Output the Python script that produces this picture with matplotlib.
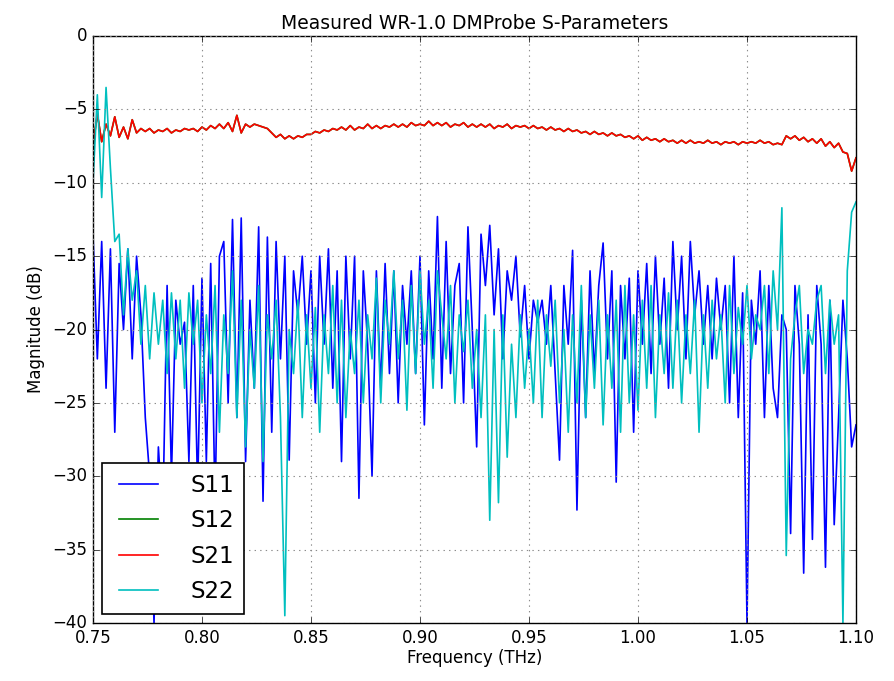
import matplotlib
matplotlib.use("Agg")
import matplotlib.pyplot as plt
import numpy as np

# frequency grid (THz), 2 GHz step
freq_start, freq_stop, freq_step = 0.75, 1.10, 0.002

s11_db = [
    -13.5, -22, -14, -24, -14.5, -27, -15.5, -20, -14.5, -22,
    -15, -19, -26, -30, -40, -28, -33, -17, -30, -18,
    -21, -19.5, -29, -17, -31, -16.5, -29, -15.5, -32, -15,
    -14, -25, -12.5, -26, -12.4, -29, -18, -24, -13, -31.7,
    -13.7, -27, -14, -22, -15, -28.9, -16, -19, -15, -21,
    -16, -25, -15, -21, -14.5, -24, -16, -29, -15, -22,
    -15, -31.5, -16, -21, -30, -16, -24, -15.5, -23, -16,
    -25, -17, -21, -16, -23, -15, -26.5, -16, -22, -12.3,
    -24, -14, -23, -17, -15.5, -25, -13, -20, -28, -13.5,
    -17, -12.9, -19, -14.5, -22, -16, -18, -15, -20.5, -17,
    -22, -18, -19.5, -18, -21, -17, -23, -28.9, -17, -21,
    -14.6, -32.3, -18, -26, -16, -23, -17, -14.1, -22, -16,
    -30.4, -17, -22, -16.5, -27, -16, -21, -15.5, -23, -15,
    -21, -16.5, -24, -14, -20, -15, -22, -14, -19, -16,
    -21, -17, -22, -16.5, -20, -17, -25, -15, -26, -17.5,
    -40, -18, -21, -16, -26, -17, -24, -26, -19, -20,
    -33.9, -17, -21, -36.6, -19, -34.3, -17, -21, -36.2, -18,
    -33.3, -26, -18, -22, -28, -26.5,
]

s22_db = [
    -10, -4, -11, -3.5, -9, -14, -13.5, -19, -14.5, -18,
    -16, -21, -17, -22, -17.5, -21, -18, -23, -17.5, -22,
    -18, -24, -17.5, -21, -18, -25, -19, -23, -17, -27,
    -19, -23, -16, -26, -18, -28, -20, -24, -17, -29,
    -19, -22, -18, -26, -39.5, -20, -23, -18, -26, -19,
    -24, -18.5, -27, -19, -23, -17, -25, -18, -26, -20,
    -23, -18, -25, -19, -22, -16.5, -25, -18, -21, -16,
    -22, -18, -25.5, -17, -23, -16, -21, -18, -24, -16,
    -19, -22, -17, -25, -19, -21.5, -18, -24, -20, -26,
    -19, -33, -20, -31.8, -19, -28.7, -21, -26, -19, -24,
    -20, -25, -18, -26, -19, -22.5, -18, -25, -20, -27,
    -19, -25, -17, -26, -19, -24, -18, -26.5, -19, -24,
    -18, -27, -17, -25, -19, -25.5, -18, -24, -17, -26,
    -19, -23, -17.5, -24, -18, -25, -19, -23, -18, -27,
    -19, -24, -18, -22, -19, -25, -17, -23, -18.5, -21,
    -17, -22, -19, -20, -17, -23, -16, -20, -11.7, -35.4,
    -22, -19, -17, -23, -20, -21, -18, -17, -23, -18,
    -21, -19, -40, -16, -12, -11.3,
]

s21_db = [
    -7.5, -5.3, -7.2, -6.0, -6.8, -5.5, -6.9, -6.2, -7.0, -5.7,
    -6.6, -6.3, -6.5, -6.3, -6.6, -6.4, -6.5, -6.3, -6.6, -6.4,
    -6.5, -6.3, -6.4, -6.3, -6.5, -6.2, -6.4, -6.1, -6.3, -6.0,
    -6.3, -5.9, -6.5, -5.4, -6.6, -6.0, -6.2, -6.0, -6.1, -6.2,
    -6.3, -6.6, -6.9, -6.7, -7.0, -6.8, -7.0, -6.8, -6.9, -6.7,
    -6.7, -6.5, -6.6, -6.4, -6.5, -6.3, -6.4, -6.2, -6.4, -6.1,
    -6.4, -6.2, -6.3, -6.0, -6.3, -6.1, -6.3, -6.1, -6.2, -6.0,
    -6.2, -6.0, -6.2, -5.9, -6.1, -6.0, -6.1, -5.8, -6.1, -5.9,
    -6.1, -5.9, -6.2, -6.0, -6.1, -5.9, -6.2, -6.0, -6.2, -6.0,
    -6.2, -6.0, -6.3, -6.1, -6.2, -6.0, -6.3, -6.1, -6.2, -6.1,
    -6.3, -6.1, -6.3, -6.2, -6.4, -6.2, -6.4, -6.3, -6.5, -6.3,
    -6.5, -6.4, -6.6, -6.5, -6.7, -6.5, -6.7, -6.6, -6.8, -6.6,
    -6.8, -6.7, -6.9, -6.8, -7.0, -6.8, -7.1, -6.9, -7.1, -7.0,
    -7.2, -7.0, -7.2, -7.1, -7.3, -7.1, -7.3, -7.1, -7.3, -7.2,
    -7.3, -7.1, -7.3, -7.2, -7.4, -7.2, -7.3, -7.2, -7.4, -7.2,
    -7.3, -7.2, -7.3, -7.1, -7.3, -7.2, -7.4, -7.3, -7.4, -6.8,
    -7.0, -6.8, -7.1, -6.9, -7.2, -7.0, -7.3, -7.0, -7.5, -7.2,
    -7.6, -7.3, -7.9, -8.0, -9.2, -8.3,
]

# S12 sits underneath S21 (reciprocal probe), so it is hidden in the plot
s12_db = list(s21_db)

x_ticks = [0.75, 0.80, 0.85, 0.90, 0.95, 1.00, 1.05, 1.10]
y_ticks = [0, -5, -10, -15, -20, -25, -30, -35, -40]


def main() -> None:
    plt.style.use("classic")
    freq = np.arange(len(s11_db)) * freq_step + freq_start

    fig = plt.figure(figsize=(8.94, 6.81), dpi=100, facecolor="white")
    ax = fig.add_axes([0.104, 0.0852, 0.8535, 0.8618])

    ax.plot(freq, s11_db, color="b", linewidth=1.2, label="S11")
    ax.plot(freq, s12_db, color="g", linewidth=1.2, label="S12")
    ax.plot(freq, s21_db, color="r", linewidth=1.2, label="S21")
    ax.plot(freq, s22_db, color="c", linewidth=1.2, label="S22")

    ax.set_xlim(freq_start, freq_stop)
    ax.set_ylim(-40, 0)
    ax.set_xticks(x_ticks)
    ax.set_xticklabels([f"{t:.2f}" for t in x_ticks])
    ax.set_yticks(y_ticks)
    ax.tick_params(labelsize=12)
    ax.grid(True, color="0.55", linestyle=":", linewidth=0.8)

    ax.set_xlabel("Frequency (THz)", fontsize=12, labelpad=2)
    ax.set_ylabel("Magnitude (dB)", fontsize=12)
    ax.set_title("Measured WR-1.0 DMProbe S-Parameters", fontsize=13.5, y=1.0)

    leg = ax.legend(loc="lower left", fontsize=16.5, borderaxespad=0.4,
                    handlelength=2.3, handletextpad=1.1, labelspacing=0.55,
                    borderpad=0.45)
    leg.get_frame().set_linewidth(1.2)

    fig.savefig("out.png", dpi=100, facecolor="white")
    plt.close(fig)


if __name__ == "__main__":
    main()
